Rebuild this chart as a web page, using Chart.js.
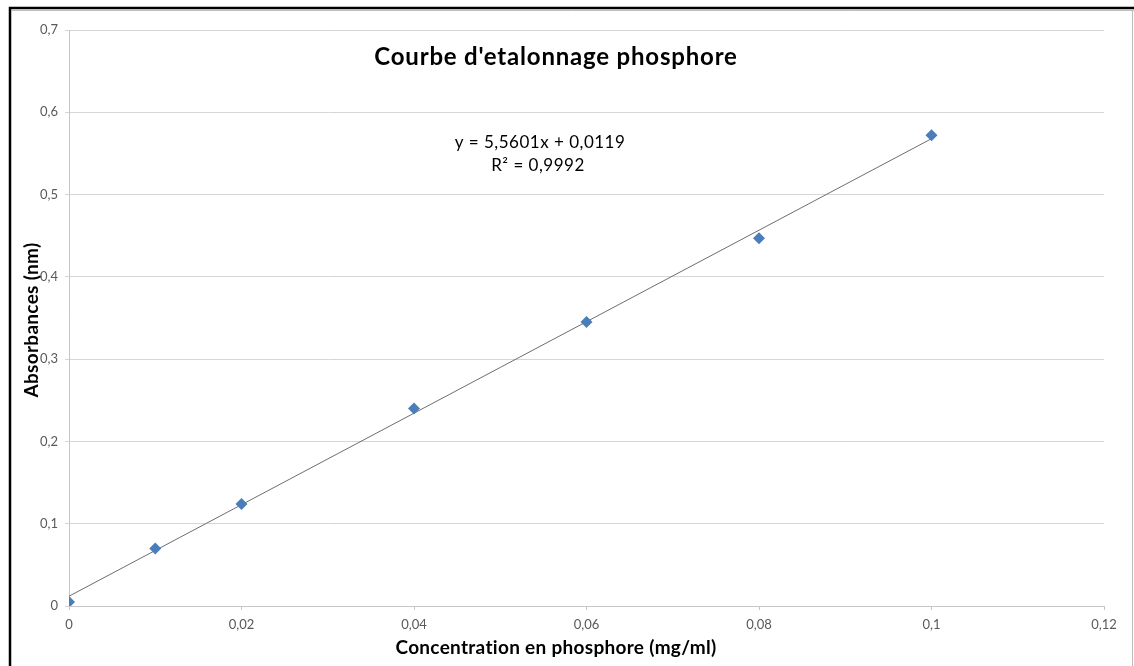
<!DOCTYPE html>
<html>
<head>
<meta charset="utf-8">
<script src="https://cdn.jsdelivr.net/npm/chart.js@4/dist/chart.umd.min.js"></script>
<style>
  html, body { margin: 0; padding: 0; background: #fff; }
  #wrap { width: 1134px; height: 666px; position: relative; }
</style>
</head>
<body>
<div id="wrap"><canvas id="chart"></canvas></div>
<script>
  // calibration points: concentration (mg/ml) vs measured absorbance
  const concentrations = [0, 0.01, 0.02, 0.04, 0.06, 0.08, 0.1];
  const absorbances = [0.005, 0.070, 0.124, 0.240, 0.345, 0.447, 0.572];

  // linear fit shown on the chart
  const slope = 5.5601;
  const intercept = 0.0119;
  const rSquared = 0.9992;

  // axis ranges / steps
  const xRange = [0, 0.12];
  const xStep = 0.02;
  const yRange = [0, 0.7];
  const yStep = 0.1;

  const FONT = 'Lato, "Open Sans", sans-serif';
  const comma = (v) => String(v).replace('.', ',');
  const tickLabel = (v) => comma(Number(v.toFixed(2)));

  const xFirst = concentrations[0];
  const xLast = concentrations[concentrations.length - 1];
  const trend = [
    { x: xFirst, y: slope * xFirst + intercept },
    { x: xLast, y: slope * xLast + intercept }
  ];

  const points = concentrations.map((c, i) => ({ x: c, y: absorbances[i] }));

  // frame, title, equation and axis titles
  const decorations = {
    id: 'decorations',
    beforeDraw(chart) {
      const ctx = chart.ctx;
      ctx.save();
      ctx.fillStyle = '#fff';
      ctx.fillRect(0, 0, chart.width, chart.height);
      ctx.restore();
    },
    afterDraw(chart) {
      const ctx = chart.ctx;
      ctx.save();

      // outer border
      ctx.strokeStyle = '#000';
      ctx.lineWidth = 2.5;
      ctx.beginPath();
      ctx.moveTo(10, chart.height);
      ctx.lineTo(10, 8);
      ctx.lineTo(chart.width, 8);
      ctx.stroke();
      ctx.strokeStyle = '#bdbdbd';
      ctx.lineWidth = 1;
      ctx.beginPath();
      ctx.moveTo(11.5, 10.5);
      ctx.lineTo(chart.width, 10.5);
      ctx.moveTo(1132.5, 10);
      ctx.lineTo(1132.5, chart.height);
      ctx.stroke();

      ctx.fillStyle = '#000';
      ctx.textAlign = 'center';
      ctx.textBaseline = 'middle';

      ctx.letterSpacing = '0.8px';
      ctx.font = 'bold 24px ' + FONT;
      ctx.fillText("Courbe d'etalonnage phosphore", 556, 57);

      ctx.letterSpacing = '0.5px';
      ctx.font = '17px ' + FONT;
      ctx.fillText('y = ' + comma(slope) + 'x + ' + comma(intercept), 540, 143);
      ctx.fillText('R² = ' + comma(rSquared), 538, 166);

      ctx.letterSpacing = '0.3px';
      ctx.font = 'bold 19px ' + FONT;
      ctx.fillText('Concentration en phosphore (mg/ml)', 556, 648);

      ctx.translate(32, 320);
      ctx.rotate(-Math.PI / 2);
      ctx.fillText('Absorbances (nm)', 0, 0);
      ctx.restore();
    }
  };

  new Chart(
    document.getElementById('chart'),
    {
      type: 'scatter',
      data: {
        datasets: [
          {
            label: 'Absorbance',
            data: points,
            pointStyle: 'rectRot',
            pointRadius: 6,
            pointHoverRadius: 6,
            backgroundColor: '#4a7ebb',
            borderColor: '#4a7ebb',
            borderWidth: 0,
            order: 0
          },
          {
            label: 'Linéaire',
            data: trend,
            type: 'line',
            showLine: true,
            borderColor: '#6e6e6e',
            borderWidth: 1,
            pointRadius: 0,
            fill: false,
            order: 1
          }
        ]
      },
      options: {
        responsive: true,
        maintainAspectRatio: false,
        animation: false,
        events: [],
        layout: {
          padding: { top: 30, right: 30, left: 0, bottom: 0 }
        },
        plugins: {
          legend: { display: false },
          tooltip: { enabled: false },
          title: { display: false }
        },
        scales: {
          x: {
            type: 'linear',
            min: xRange[0],
            max: xRange[1],
            afterFit: (scale) => { scale.height = 60; },
            ticks: {
              stepSize: xStep,
              color: '#595959',
              padding: 7,
              font: { family: FONT, size: 13 },
              callback: (v) => tickLabel(v)
            },
            grid: {
              drawOnChartArea: false,
              drawTicks: true,
              tickLength: 4,
              color: '#c6c6c6'
            },
            border: { display: true, color: '#c6c6c6' }
          },
          y: {
            type: 'linear',
            min: yRange[0],
            max: yRange[1],
            afterFit: (scale) => { scale.width = 69; },
            ticks: {
              stepSize: yStep,
              color: '#595959',
              padding: 7,
              font: { family: FONT, size: 13 },
              callback: (v) => tickLabel(v)
            },
            grid: {
              color: '#d6d6d6',
              tickLength: 4,
              drawTicks: true
            },
            border: { display: true, color: '#c6c6c6' }
          }
        }
      },
      plugins: [decorations]
    }
  );
</script>
</body>
</html>
